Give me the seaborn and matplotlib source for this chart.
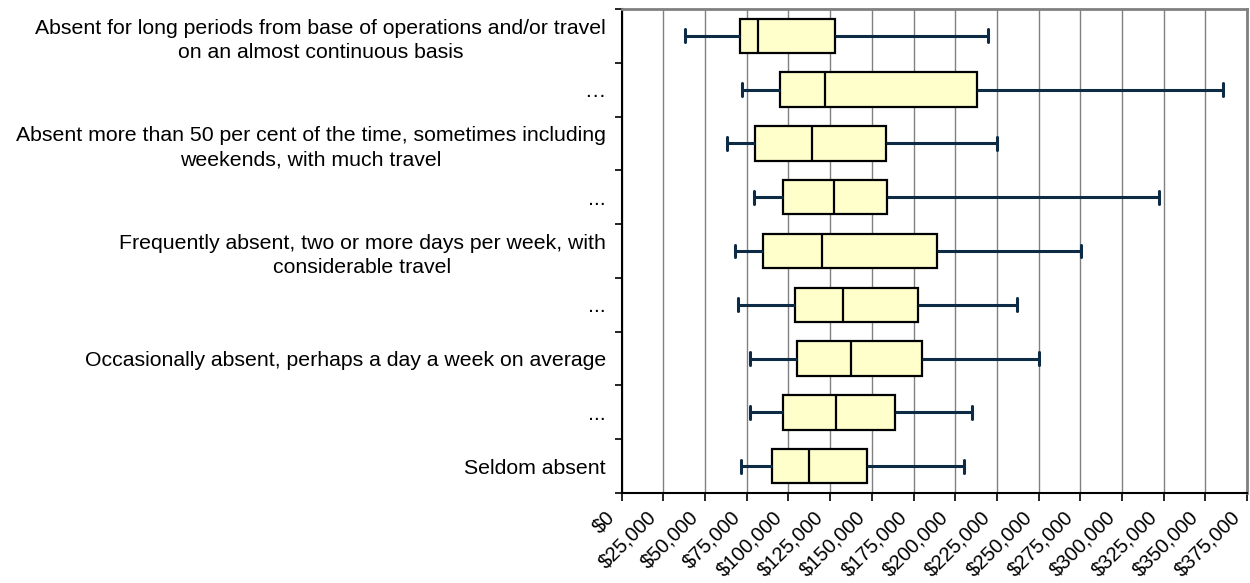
import numpy as np
import pandas as pd
import seaborn as sns
import matplotlib.pyplot as plt
from matplotlib.ticker import FixedLocator, FuncFormatter
from matplotlib.transforms import ScaledTranslation

# category labels, top to bottom
levels = [
    "Absent for long periods from base of operations and/or travel\non an almost continuous basis",
    "\u2026",
    "Absent more than 50 per cent of the time, sometimes including\nweekends, with much travel",
    "...",
    "Frequently absent, two or more days per week, with\nconsiderable travel",
    "...",
    "Occasionally absent, perhaps a day a week on average",
    "...",
    "Seldom absent",
]

# five-number summaries (dollars)
whisker_low = [37700, 71900, 63100, 79400, 67900, 69900, 76900, 76900, 71400]
q1 = [70900, 95000, 80200, 96500, 84900, 104000, 105000, 97000, 90000]
median = [81700, 122100, 114300, 127400, 120100, 132700, 137700, 128200, 112100]
q3 = [127700, 213100, 158300, 159100, 189000, 177900, 179900, 164100, 147000]
whisker_high = [219400, 360400, 225200, 322400, 275200, 237000, 250300, 210100, 205100]

x_ticks = np.arange(0, 375001, 25000)

rows = []
for i in range(len(levels)):
    for v in (whisker_low[i], q1[i], median[i], q3[i], whisker_high[i]):
        rows.append({"level": i, "salary": v})
df = pd.DataFrame(rows)

sns.set_style("white")
plt.rcParams['font.family'] = ['Liberation Sans', 'DejaVu Sans']
plt.rcParams['text.color'] = 'black'
plt.rcParams['xtick.color'] = 'black'
plt.rcParams['ytick.color'] = 'black'

fig = plt.figure(figsize=(12.5, 5.83), dpi=100)
ax = fig.add_axes([0.4974, 0.1544, 0.5002, 0.8302])

sns.boxplot(data=df, x="salary", y="level", orient="h", order=list(range(len(levels))),
            whis=(0, 100), width=0.64, color="#FFFFCC", ax=ax,
            boxprops=dict(facecolor="#FFFFCC", edgecolor="black", linewidth=1.6),
            medianprops=dict(color="black", linewidth=1.6),
            whiskerprops=dict(color="#0D2B45", linewidth=2.2),
            capprops=dict(color="#0D2B45", linewidth=2.2),
            capwidths=0.24, showfliers=False, zorder=3)

ax.set_xlim(0, 375000)
ax.set_ylim(len(levels) - 0.5, -0.5)

ax.set_xticks(x_ticks)
ax.xaxis.set_major_formatter(FuncFormatter(lambda v, p: "${:,.0f}".format(v)))
ax.tick_params(axis="x", direction="out", length=6, width=1.2, color="black",
               labelsize=14.5, pad=9, bottom=True, labelcolor="black")
shift = ScaledTranslation(-7 / 72, 0, fig.dpi_scale_trans)
for lab in ax.get_xticklabels():
    lab.set_rotation(45)
    lab.set_ha("right")
    lab.set_va("center")
    lab.set_rotation_mode("anchor")
    lab.set_transform(lab.get_transform() + shift)

ax.set_yticks(range(len(levels)))
ax.set_yticklabels(levels, multialignment="center", linespacing=1.35)
ax.tick_params(axis="y", which="major", length=0, labelsize=15.3, pad=11.5,
               labelcolor="black")
ax.yaxis.set_minor_locator(FixedLocator(np.arange(-0.5, len(levels), 1.0)))
ax.tick_params(axis="y", which="minor", direction="out", length=5, width=1.2,
               color="black", left=True)

ax.set_xlabel("")
ax.set_ylabel("")

ax.grid(axis="x", color="#808080", linewidth=1.0, zorder=0)
ax.set_axisbelow(True)
ax.spines["left"].set_color("black")
ax.spines["left"].set_linewidth(1.5)
ax.spines["bottom"].set_color("black")
ax.spines["bottom"].set_linewidth(1.5)
ax.spines["top"].set_color("#808080")
ax.spines["top"].set_linewidth(2)
ax.spines["right"].set_color("#808080")
ax.spines["right"].set_linewidth(2)

fig.savefig("out.png", dpi=100)
